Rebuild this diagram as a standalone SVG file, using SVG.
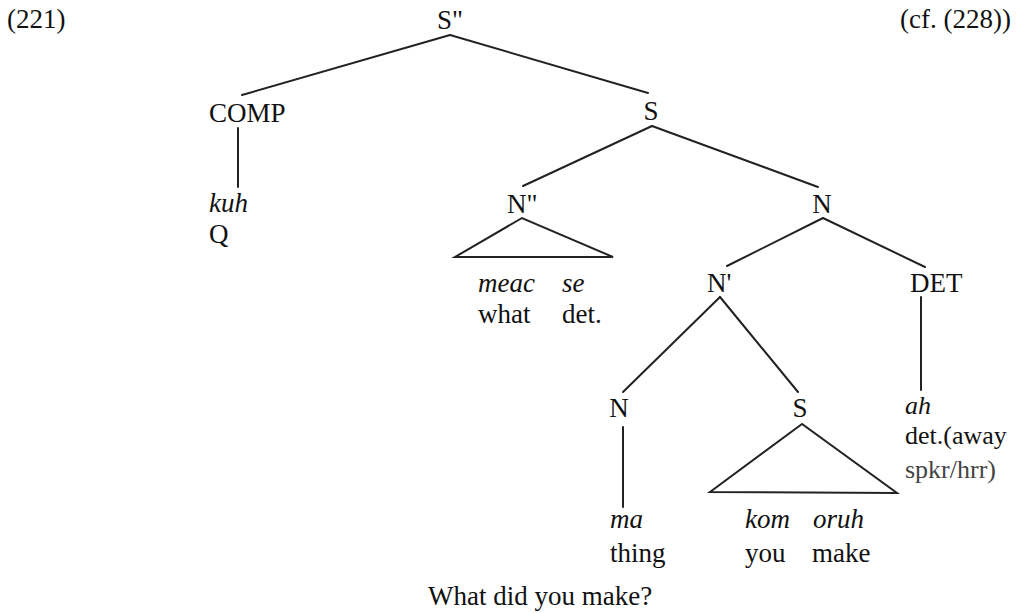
<svg xmlns="http://www.w3.org/2000/svg" width="1021" height="613" viewBox="0 0 1021 613">
<style>
text{font-family:"Liberation Serif","Times New Roman",serif;font-size:27px;fill:#111}
.i{font-style:italic}
.g{fill:#444}
.s{font-size:26px}
.e{stroke:#222;stroke-width:2;fill:none;stroke-linecap:round}
</style>
<rect width="1021" height="613" fill="#fff"/>
<g id="labels">
<text x="7" y="28">(221)</text>
<text x="900" y="28">(cf. (228))</text>
<text x="428" y="605">What did you make?</text>
</g>
<g id="connectors">
<line class="e" x1="450" y1="35" x2="242" y2="95"/>
<line class="e" x1="450" y1="35" x2="648" y2="93"/>
<line class="e" x1="238" y1="128" x2="238" y2="187"/>
<line class="e" x1="652" y1="126" x2="523" y2="186"/>
<line class="e" x1="652" y1="126" x2="818" y2="187"/>
<polygon class="e" points="522,218 455,257 613,257"/>
<line class="e" x1="823" y1="218" x2="727" y2="266"/>
<line class="e" x1="823" y1="218" x2="925" y2="267"/>
<line class="e" x1="921" y1="297" x2="921" y2="390"/>
<line class="e" x1="720" y1="297" x2="623" y2="392"/>
<line class="e" x1="720" y1="297" x2="798" y2="392"/>
<line class="e" x1="623" y1="427" x2="623" y2="507"/>
<polygon class="e" points="802,424 710,492 897,493"/>
</g>
<g id="node-S2"><text x="450" y="29" text-anchor="middle">S"</text></g>
<g id="node-COMP"><text x="209" y="122">COMP</text></g>
<g id="node-kuh"><text x="209" y="212" class="i">kuh</text><text x="209" y="243">Q</text></g>
<g id="node-S"><text x="651" y="120" text-anchor="middle">S</text></g>
<g id="node-N2"><text x="507" y="213">N"</text></g>
<g id="node-meac"><text x="478" y="292" class="i">meac</text><text x="478" y="323">what</text></g>
<g id="node-se"><text x="562" y="292" class="i">se</text><text x="562" y="323">det.</text></g>
<g id="node-N"><text x="822" y="213" text-anchor="middle">N</text></g>
<g id="node-N1"><text x="707" y="292">N'</text></g>
<g id="node-DET"><text x="910" y="292">DET</text></g>
<g id="node-ah"><text x="905" y="414" class="i s">ah</text><text x="905" y="444" class="s">det.(away</text><text x="905" y="478" class="g s">spkr/hrr)</text></g>
<g id="node-Nlow"><text x="619" y="417" text-anchor="middle">N</text></g>
<g id="node-Slow"><text x="800" y="417" text-anchor="middle">S</text></g>
<g id="node-ma"><text x="610" y="528" class="i">ma</text><text x="610" y="562">thing</text></g>
<g id="node-kom"><text x="745" y="528" class="i">kom</text><text x="745" y="562">you</text></g>
<g id="node-oruh"><text x="813" y="528" class="i">oruh</text><text x="812" y="562">make</text></g>
</svg>
